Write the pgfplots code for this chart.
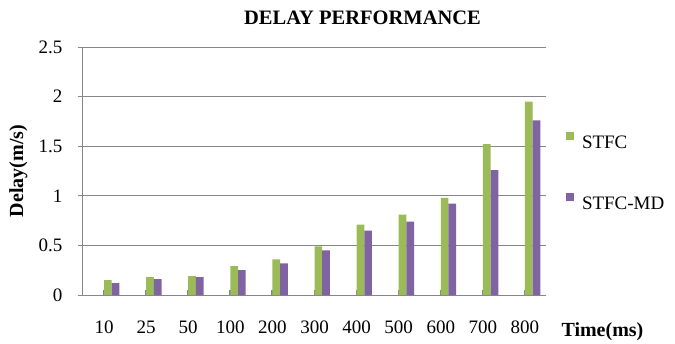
\documentclass[border=0pt]{standalone}
\usepackage{pgfplots}
\pgfplotsset{compat=1.18}
\usepackage{fontspec}
\setmainfont{Liberation Serif}

\definecolor{stfc}{HTML}{9BBB59}
\definecolor{stfcmd}{HTML}{8064A2}
\definecolor{axgray}{HTML}{868686}

\begin{document}
\begin{tikzpicture}[x=1pt,y=1pt]
\useasboundingbox (0,0) rectangle (675,343);
\begin{axis}[
  at={(83pt,48pt)}, anchor=south west,
  scale only axis, width=463pt, height=248pt,
  xmin=-0.5, xmax=10.5, ymin=0, ymax=2.5,
  ybar,
  xtick={0,1,2,3,4,5,6,7,8,9,10},
  xticklabels={10,25,50,100,200,300,400,500,600,700,800},
  ytick={0,0.5,1,1.5,2,2.5},
  yticklabels={0,0.5,1,1.5,2,2.5},
  axis x line*=bottom, axis y line*=left,
  axis line style={axgray, line width=1pt, -},
  ymajorgrids, grid style={axgray, line width=1pt},
  xtick align=inside, ytick align=outside,
  major tick length=5pt,
  xtick style={axgray, line width=2pt},
  ytick style={axgray, line width=1pt},
  tick label style={font=\fontsize{19}{22}\selectfont, black},
  xticklabel style={yshift=-22pt},
  yticklabel style={xshift=-12pt},
  /pgf/number format/assume math mode=true,
  legend style={draw=none, fill=none, inner sep=0pt, outer sep=0pt,
    at={(1.0432,0.502)}, anchor=west,
    font=\fontsize{19}{22}\selectfont,
    row sep=44.4pt, column sep=8pt,
    nodes={inner sep=0pt, text height=12.6pt, text depth=0pt}},
  legend cell align=left,
  legend image code/.code={\fill[#1] (0pt,2pt) rectangle (8pt,10pt);},
]
\addplot[fill=stfc, draw=none, bar width=0.183, bar shift=0.0915]
  coordinates {(0,0.15) (1,0.18) (2,0.19) (3,0.29) (4,0.36) (5,0.49)
               (6,0.71) (7,0.81) (8,0.98) (9,1.52) (10,1.95)};
\addplot[fill=stfcmd, draw=none, bar width=0.183, bar shift=0.2745]
  coordinates {(0,0.12) (1,0.16) (2,0.18) (3,0.25) (4,0.32) (5,0.45)
               (6,0.65) (7,0.74) (8,0.92) (9,1.26) (10,1.76)};
\legend{STFC, STFC-MD}
\end{axis}
% chart title and axis titles
\node[anchor=base, font=\bfseries\fontsize{20.5}{24}\selectfont] at (362.5,318) {DELAY PERFORMANCE};
\node[rotate=90, anchor=base, font=\bfseries\fontsize{20}{24}\selectfont] at (23,172) {Delay(m/s)};
\node[anchor=base west, font=\bfseries\fontsize{20}{24}\selectfont] at (558,7) {Time(ms)};
\end{tikzpicture}
\end{document}
